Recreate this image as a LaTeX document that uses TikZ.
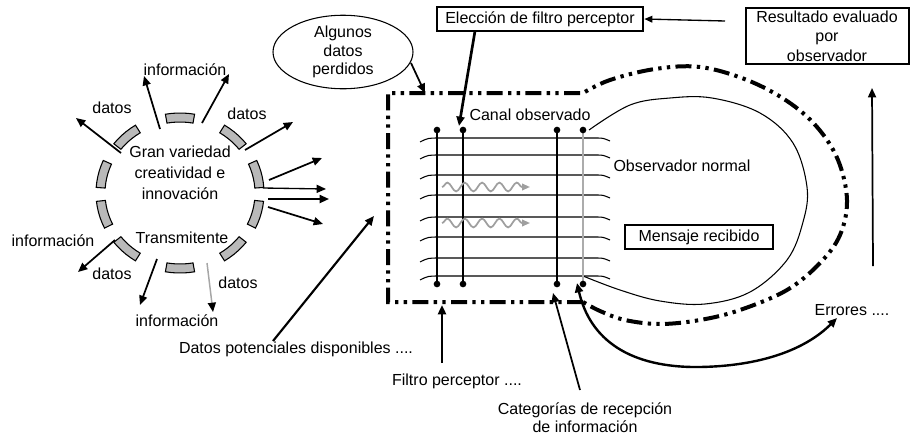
\documentclass[tikz,border=0pt]{standalone}
\usepackage{fontspec}
\setmainfont{Liberation Sans}
\usetikzlibrary{arrows.meta,decorations.pathmorphing,shapes.geometric}
\begin{document}
\begin{tikzpicture}[x=0.75pt,y=-0.75pt,
  font=\fontsize{12}{15.8}\selectfont,
  lbl/.style={inner sep=1pt},
  arr/.style={-{Triangle[length=7pt,width=6pt]}, line width=1.6pt},
  thinarr/.style={-{Triangle[length=6pt,width=5pt]}, line width=1pt},
  seg/.style={draw=black, fill=gray!55, line width=0.8pt},
  dashdot/.style={line width=3pt, dash pattern=on 12pt off 4pt on 2.5pt off 4pt on 2.5pt off 4pt},
  chan/.style={line width=0.8pt},
  enddot/.style={circle, fill=black, inner sep=0pt, minimum size=5pt},
  wave/.style={draw=gray!75, line width=1.3pt, decorate,
     decoration={snake, segment length=13pt, amplitude=3.3pt, post length=5pt},
     -{Triangle[length=6pt,width=5pt]}},
  boxed/.style={draw, inner sep=2pt, align=center}]
\useasboundingbox (0,0) rectangle (910,436);

% ---------- transmitter ring ----------
\foreach \a in {90,48,14,-16,-48,-90,-132,-164,166,132} {
  \filldraw[seg] plot[domain=\a-10:\a+10, samples=6] ({180+84*cos(\x)},{193-80*sin(\x)})
     -- plot[domain=\a+10:\a-10, samples=6] ({180+75*cos(\x)},{193-71*sin(\x)}) -- cycle;
}
\node[align=center, font=\fontsize{12}{15.8}\selectfont] (gran) at (180,173) {Gran variedad\\creatividad e\\innovación};
\node (trans) at (182,238) {Transmitente};

\node[lbl] (infoT) at (185,70) {información};
\node[lbl] (datosTL) at (112,108) {datos};
\node[lbl] (datosTR) at (247,114) {datos};
\node[lbl] (infoL) at (53,241) {información};
\node[lbl] (datosBL) at (112,274) {datos};
\node[lbl] (datosBR) at (238,283) {datos};
\node[lbl] (infoB) at (177,321) {información};

\coordinate (s1) at (160,129); \coordinate (t1) at (144,76);
\coordinate (s2) at (202,123); \coordinate (t2) at (229,74);
\coordinate (s3) at (121,153); \coordinate (t3) at (76,118);
\coordinate (s4) at (245,150); \coordinate (t4) at (293,122);
\coordinate (s5) at (269,180); \coordinate (t5) at (322,158);
\coordinate (s6) at (263,188); \coordinate (t6) at (326,189);
\coordinate (s7) at (268,199); \coordinate (t7) at (329,199);
\coordinate (s8) at (268,207); \coordinate (t8) at (323,224);
\coordinate (s9) at (115,240); \coordinate (t9) at (78,272);
\coordinate (s10) at (157,259); \coordinate (t10) at (140,305);
\coordinate (s11) at (207,263); \coordinate (t11) at (213,312);
\foreach \i in {1,2,3,4,5,8,9,10} { \draw[arr, line width=1.3pt] (s\i) -- (t\i); }
\draw[arr, line width=1pt] (s6) -- (t6);
\draw[arr, line width=1.4pt] (s7) -- (t7);
\draw[line width=1.1pt, draw=gray!70, -{Triangle[length=7pt,width=6pt,color=black]}] (s11) -- (t11);

% ---------- channel box with loop ----------
\draw[dashdot] (583,302) -- (388,302) -- (388,93) -- (583,93)
  -- plot[smooth, tension=0.6] coordinates {(583,93) (610,80) (655,69) (700,67) (747,80) (787,101) (817,127) (838,160) (847,200) (840,235) (820,263) (787,290) (740,310) (700,320) (660,324) (625,320) (600,311) (583,302)};

% observer circle
\draw[chan] plot[smooth, tension=0.6] coordinates {(589,130) (630,105) (670,98) (712,98) (760,113) (793,143) (807,187) (803,222) (787,260) (750,292) (705,304) (660,301) (620,290) (583,276)};

% channel lines
\foreach \y in {138,155,175,195,217,237,258,276} {
  \draw[chan] (420,\y+4) .. controls (428,\y) .. (440,\y) -- (596,\y) .. controls (603,\y) .. (610,\y+3);
}

% vertical category lines
\coordinate (v1t) at (437,130); \coordinate (v1b) at (437,284);
\coordinate (v2t) at (463,130); \coordinate (v2b) at (463,284);
\coordinate (v3t) at (557,130); \coordinate (v3b) at (557,284);
\coordinate (v4t) at (583,130); \coordinate (v4b) at (583,284);
\draw[line width=1pt] (v1t) -- (v1b);
\draw[line width=2.2pt] (v2t) -- (v2b);
\draw[line width=2.2pt] (v3t) -- (v3b);
\draw[line width=1.5pt, gray!65] (v4t) -- (v4b);
\foreach \p in {v1t,v1b,v2t,v2b,v3t,v3b,v4t,v4b} { \node[enddot] at (\p) {}; }

% waves
\coordinate (w1s) at (442,187); \coordinate (w1e) at (530,187);
\coordinate (w2s) at (442,223); \coordinate (w2e) at (530,223);
\draw[wave] (w1s) -- (w1e);
\draw[wave] (w2s) -- (w2e);

\node (canal) at (530,115) {Canal observado};
\node (obsn) at (682,166) {Observador normal};
\node[boxed, line width=1pt, minimum width=0.75*148pt, minimum height=0.75*24pt] (mensaje) at (699,237) {Mensaje recibido};

% ---------- top boxes ----------
\node[boxed, line width=2pt, minimum width=0.75*206pt, minimum height=0.75*24pt] (eleccion) at (540,19) {Elección de filtro perceptor};
\node[boxed, line width=1.5pt, minimum width=0.75*163pt, minimum height=0.75*56pt, font=\fontsize{12}{14.6}\selectfont] (resultado) at (827,36) {Resultado evaluado\\por\\observador};

\node[draw, ellipse, line width=0.8pt, minimum width=0.75*140pt, minimum height=0.75*72pt, inner sep=0pt, align=center, font=\fontsize{12}{13.9}\selectfont] (algunos) at (343,52) {Algunos\\datos\\perdidos};

\coordinate (al1) at (411,63); \coordinate (al2) at (425,93);
\draw[arr, line width=1.3pt] (al1) -- (al2);

\coordinate (el1) at (475,31); \coordinate (el2) at (459,126);
\draw[arr, line width=2pt] (el1) -- (el2);

\coordinate (re1) at (725,21);
\draw[thinarr] (re1) -- (eleccion.east);

% ---------- bottom labels ----------
\node (errores) at (852,310) {Errores ....};
\node (datospot) at (296,349) {Datos potenciales disponibles ....};
\node (filtro) at (457,381) {Filtro perceptor ....};
\node[align=center, font=\fontsize{12}{13.5}\selectfont] (categ) at (585,418) {Categorías de recepción\\de información};

\coordinate (er1) at (873,266); \coordinate (er2) at (872,88);
\draw[arr, line width=1.3pt] (er1) -- (er2);

\coordinate (cu1) at (577,283); \coordinate (cu2) at (837,318);
\draw[line width=1.8pt, {Triangle[length=7pt,width=6pt]}-{Triangle[length=7pt,width=6pt]}] (cu1) .. controls (590,340) and (630,368) .. (700,367) .. controls (760,366) and (805,350) .. (cu2);

\coordinate (ca1) at (580,390); \coordinate (ca2) at (553,293);
\draw[arr, line width=1.3pt] (ca1) -- (ca2);

\coordinate (fi1) at (442,363); \coordinate (fi2) at (442,305);
\draw[arr, line width=2pt] (fi1) -- (fi2);

\coordinate (dp1) at (273,341); \coordinate (dp2) at (374,216);
\draw[arr, line width=1.6pt] (dp1) -- (dp2);
\end{tikzpicture}
\end{document}
